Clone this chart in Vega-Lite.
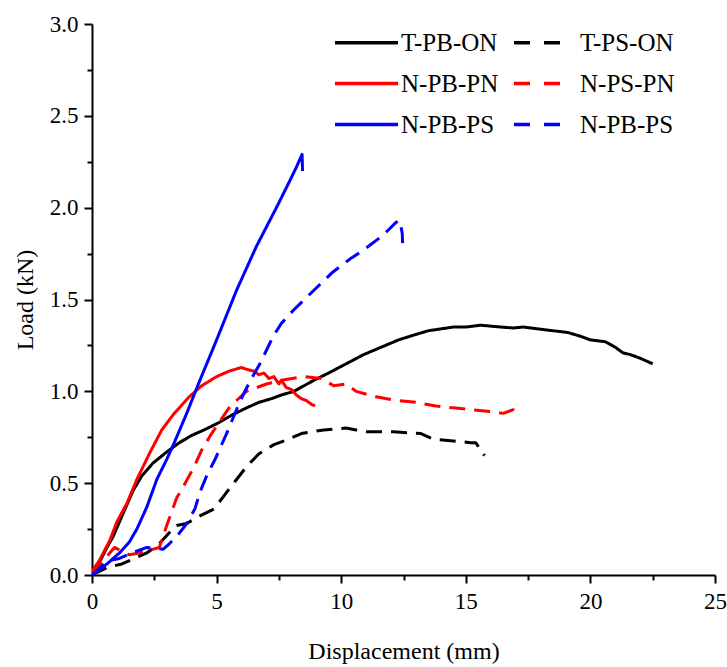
{
  "$schema": "https://vega.github.io/schema/vega-lite/v6.json",
  "width": 623,
  "height": 551,
  "autosize": "none",
  "padding": {"left": 92, "top": 24, "right": 12, "bottom": 92},
  "background": "white",
  "config": {
    "view": {"stroke": null},
    "font": "Liberation Serif"
  },
  "data": {
    "values": [
      {"s": "s1", "i": 0, "x": 0, "y": 0},
      {"s": "s1", "i": 1, "x": 0.3, "y": 0.07},
      {"s": "s1", "i": 2, "x": 0.6, "y": 0.15},
      {"s": "s1", "i": 3, "x": 0.85, "y": 0.21},
      {"s": "s1", "i": 4, "x": 1.2, "y": 0.32},
      {"s": "s1", "i": 5, "x": 1.65, "y": 0.46},
      {"s": "s1", "i": 6, "x": 2.0, "y": 0.54},
      {"s": "s1", "i": 7, "x": 2.45, "y": 0.61},
      {"s": "s1", "i": 8, "x": 3.0, "y": 0.67},
      {"s": "s1", "i": 9, "x": 3.5, "y": 0.72},
      {"s": "s1", "i": 10, "x": 4.0, "y": 0.76},
      {"s": "s1", "i": 11, "x": 4.5, "y": 0.79},
      {"s": "s1", "i": 12, "x": 5.1, "y": 0.83},
      {"s": "s1", "i": 13, "x": 5.6, "y": 0.87},
      {"s": "s1", "i": 14, "x": 6.2, "y": 0.91},
      {"s": "s1", "i": 15, "x": 6.7, "y": 0.94},
      {"s": "s1", "i": 16, "x": 7.2, "y": 0.96},
      {"s": "s1", "i": 17, "x": 7.6, "y": 0.98},
      {"s": "s1", "i": 18, "x": 8.1, "y": 1.0},
      {"s": "s1", "i": 19, "x": 8.9, "y": 1.06},
      {"s": "s1", "i": 20, "x": 9.5, "y": 1.1},
      {"s": "s1", "i": 21, "x": 10.2, "y": 1.15},
      {"s": "s1", "i": 22, "x": 10.9, "y": 1.2},
      {"s": "s1", "i": 23, "x": 11.6, "y": 1.24},
      {"s": "s1", "i": 24, "x": 12.3, "y": 1.28},
      {"s": "s1", "i": 25, "x": 13.0, "y": 1.31},
      {"s": "s1", "i": 26, "x": 13.5, "y": 1.33},
      {"s": "s1", "i": 27, "x": 14.0, "y": 1.34},
      {"s": "s1", "i": 28, "x": 14.5, "y": 1.35},
      {"s": "s1", "i": 29, "x": 15.0, "y": 1.35},
      {"s": "s1", "i": 30, "x": 15.6, "y": 1.36},
      {"s": "s1", "i": 31, "x": 16.0, "y": 1.355},
      {"s": "s1", "i": 32, "x": 16.4, "y": 1.35},
      {"s": "s1", "i": 33, "x": 16.9, "y": 1.345},
      {"s": "s1", "i": 34, "x": 17.3, "y": 1.35},
      {"s": "s1", "i": 35, "x": 17.9, "y": 1.34},
      {"s": "s1", "i": 36, "x": 18.5, "y": 1.33},
      {"s": "s1", "i": 37, "x": 19.1, "y": 1.32},
      {"s": "s1", "i": 38, "x": 19.6, "y": 1.3},
      {"s": "s1", "i": 39, "x": 20.0, "y": 1.28},
      {"s": "s1", "i": 40, "x": 20.6, "y": 1.27},
      {"s": "s1", "i": 41, "x": 21.0, "y": 1.24},
      {"s": "s1", "i": 42, "x": 21.3, "y": 1.21},
      {"s": "s1", "i": 43, "x": 21.6, "y": 1.2},
      {"s": "s1", "i": 44, "x": 22.0, "y": 1.18},
      {"s": "s1", "i": 45, "x": 22.5, "y": 1.15},

      {"s": "s2", "i": 0, "x": 0, "y": 0},
      {"s": "s2", "i": 1, "x": 0.6, "y": 0.04},
      {"s": "s2", "i": 2, "x": 1.2, "y": 0.06},
      {"s": "s2", "i": 3, "x": 1.7, "y": 0.09},
      {"s": "s2", "i": 4, "x": 2.2, "y": 0.12},
      {"s": "s2", "i": 5, "x": 2.7, "y": 0.17},
      {"s": "s2", "i": 6, "x": 3.1, "y": 0.23},
      {"s": "s2", "i": 7, "x": 3.4, "y": 0.27},
      {"s": "s2", "i": 8, "x": 3.8, "y": 0.28},
      {"s": "s2", "i": 9, "x": 4.3, "y": 0.32},
      {"s": "s2", "i": 10, "x": 4.9, "y": 0.36},
      {"s": "s2", "i": 11, "x": 5.4, "y": 0.45},
      {"s": "s2", "i": 12, "x": 5.8, "y": 0.52},
      {"s": "s2", "i": 13, "x": 6.2, "y": 0.59},
      {"s": "s2", "i": 14, "x": 6.7, "y": 0.66},
      {"s": "s2", "i": 15, "x": 7.3, "y": 0.71},
      {"s": "s2", "i": 16, "x": 7.9, "y": 0.74},
      {"s": "s2", "i": 17, "x": 8.4, "y": 0.77},
      {"s": "s2", "i": 18, "x": 9.3, "y": 0.79},
      {"s": "s2", "i": 19, "x": 10.2, "y": 0.8},
      {"s": "s2", "i": 20, "x": 10.6, "y": 0.79},
      {"s": "s2", "i": 21, "x": 11.0, "y": 0.78},
      {"s": "s2", "i": 22, "x": 12.1, "y": 0.78},
      {"s": "s2", "i": 23, "x": 13.2, "y": 0.77},
      {"s": "s2", "i": 24, "x": 13.7, "y": 0.74},
      {"s": "s2", "i": 25, "x": 14.5, "y": 0.73},
      {"s": "s2", "i": 26, "x": 15.2, "y": 0.72},
      {"s": "s2", "i": 27, "x": 15.4, "y": 0.72},
      {"s": "s2", "i": 28, "x": 15.75, "y": 0.65},

      {"s": "s3", "i": 0, "x": 0, "y": 0.02},
      {"s": "s3", "i": 1, "x": 0.3, "y": 0.08},
      {"s": "s3", "i": 2, "x": 0.72, "y": 0.19},
      {"s": "s3", "i": 3, "x": 1.0, "y": 0.29},
      {"s": "s3", "i": 4, "x": 1.4, "y": 0.39},
      {"s": "s3", "i": 5, "x": 1.8, "y": 0.52},
      {"s": "s3", "i": 6, "x": 2.3, "y": 0.66},
      {"s": "s3", "i": 7, "x": 2.8, "y": 0.79},
      {"s": "s3", "i": 8, "x": 3.3, "y": 0.88},
      {"s": "s3", "i": 9, "x": 3.9, "y": 0.97},
      {"s": "s3", "i": 10, "x": 4.4, "y": 1.03},
      {"s": "s3", "i": 11, "x": 5.0, "y": 1.08},
      {"s": "s3", "i": 12, "x": 5.5, "y": 1.11},
      {"s": "s3", "i": 13, "x": 6.0, "y": 1.13},
      {"s": "s3", "i": 14, "x": 6.2, "y": 1.12},
      {"s": "s3", "i": 15, "x": 6.5, "y": 1.11},
      {"s": "s3", "i": 16, "x": 6.7, "y": 1.09},
      {"s": "s3", "i": 17, "x": 6.9, "y": 1.1},
      {"s": "s3", "i": 18, "x": 7.1, "y": 1.07},
      {"s": "s3", "i": 19, "x": 7.3, "y": 1.08},
      {"s": "s3", "i": 20, "x": 7.5, "y": 1.04},
      {"s": "s3", "i": 21, "x": 7.6, "y": 1.06},
      {"s": "s3", "i": 22, "x": 7.8, "y": 1.02},
      {"s": "s3", "i": 23, "x": 8.0, "y": 1.01},
      {"s": "s3", "i": 24, "x": 8.2, "y": 0.98},
      {"s": "s3", "i": 25, "x": 8.4, "y": 0.96},
      {"s": "s3", "i": 26, "x": 8.6, "y": 0.95},
      {"s": "s3", "i": 27, "x": 8.8, "y": 0.93},
      {"s": "s3", "i": 28, "x": 8.95, "y": 0.92},

      {"s": "s4", "i": 0, "x": 0, "y": 0},
      {"s": "s4", "i": 1, "x": 0.4, "y": 0.07},
      {"s": "s4", "i": 2, "x": 0.9, "y": 0.15},
      {"s": "s4", "i": 3, "x": 1.5, "y": 0.11},
      {"s": "s4", "i": 4, "x": 1.9, "y": 0.12},
      {"s": "s4", "i": 5, "x": 2.7, "y": 0.15},
      {"s": "s4", "i": 6, "x": 3.0, "y": 0.27},
      {"s": "s4", "i": 7, "x": 3.4, "y": 0.42},
      {"s": "s4", "i": 8, "x": 3.7, "y": 0.49},
      {"s": "s4", "i": 9, "x": 4.1, "y": 0.59},
      {"s": "s4", "i": 10, "x": 4.4, "y": 0.68},
      {"s": "s4", "i": 11, "x": 4.8, "y": 0.77},
      {"s": "s4", "i": 12, "x": 5.1, "y": 0.83},
      {"s": "s4", "i": 13, "x": 5.5, "y": 0.91},
      {"s": "s4", "i": 14, "x": 5.8, "y": 0.95},
      {"s": "s4", "i": 15, "x": 6.2, "y": 1.0},
      {"s": "s4", "i": 16, "x": 6.6, "y": 1.02},
      {"s": "s4", "i": 17, "x": 7.0, "y": 1.04},
      {"s": "s4", "i": 18, "x": 7.6, "y": 1.06},
      {"s": "s4", "i": 19, "x": 8.5, "y": 1.08},
      {"s": "s4", "i": 20, "x": 9.2, "y": 1.07},
      {"s": "s4", "i": 21, "x": 9.7, "y": 1.03},
      {"s": "s4", "i": 22, "x": 10.2, "y": 1.04},
      {"s": "s4", "i": 23, "x": 10.6, "y": 1.0},
      {"s": "s4", "i": 24, "x": 11.4, "y": 0.97},
      {"s": "s4", "i": 25, "x": 12.2, "y": 0.95},
      {"s": "s4", "i": 26, "x": 13.0, "y": 0.94},
      {"s": "s4", "i": 27, "x": 13.8, "y": 0.92},
      {"s": "s4", "i": 28, "x": 14.5, "y": 0.91},
      {"s": "s4", "i": 29, "x": 15.2, "y": 0.9},
      {"s": "s4", "i": 30, "x": 16.0, "y": 0.89},
      {"s": "s4", "i": 31, "x": 16.5, "y": 0.88},
      {"s": "s4", "i": 32, "x": 16.9, "y": 0.9},
      {"s": "s4", "i": 33, "x": 17.2, "y": 0.87},

      {"s": "s5", "i": 0, "x": 0, "y": 0},
      {"s": "s5", "i": 1, "x": 0.3, "y": 0.03},
      {"s": "s5", "i": 2, "x": 0.6, "y": 0.06},
      {"s": "s5", "i": 3, "x": 1.1, "y": 0.12},
      {"s": "s5", "i": 4, "x": 1.5, "y": 0.18},
      {"s": "s5", "i": 5, "x": 1.8, "y": 0.25},
      {"s": "s5", "i": 6, "x": 2.2, "y": 0.37},
      {"s": "s5", "i": 7, "x": 2.6, "y": 0.52},
      {"s": "s5", "i": 8, "x": 3.0, "y": 0.63},
      {"s": "s5", "i": 9, "x": 3.3, "y": 0.72},
      {"s": "s5", "i": 10, "x": 3.8, "y": 0.88},
      {"s": "s5", "i": 11, "x": 4.3, "y": 1.05},
      {"s": "s5", "i": 12, "x": 5.0, "y": 1.28},
      {"s": "s5", "i": 13, "x": 5.8, "y": 1.55},
      {"s": "s5", "i": 14, "x": 6.6, "y": 1.79},
      {"s": "s5", "i": 15, "x": 7.4, "y": 2.0},
      {"s": "s5", "i": 16, "x": 7.95, "y": 2.15},
      {"s": "s5", "i": 17, "x": 8.2, "y": 2.22},
      {"s": "s5", "i": 18, "x": 8.43, "y": 2.29},
      {"s": "s5", "i": 19, "x": 8.45, "y": 2.2},

      {"s": "s6", "i": 0, "x": 0, "y": 0},
      {"s": "s6", "i": 1, "x": 0.4, "y": 0.05},
      {"s": "s6", "i": 2, "x": 0.72, "y": 0.08},
      {"s": "s6", "i": 3, "x": 1.1, "y": 0.09},
      {"s": "s6", "i": 4, "x": 1.6, "y": 0.12},
      {"s": "s6", "i": 5, "x": 2.2, "y": 0.15},
      {"s": "s6", "i": 6, "x": 2.85, "y": 0.14},
      {"s": "s6", "i": 7, "x": 3.1, "y": 0.17},
      {"s": "s6", "i": 8, "x": 3.4, "y": 0.21},
      {"s": "s6", "i": 9, "x": 3.8, "y": 0.28},
      {"s": "s6", "i": 10, "x": 4.13, "y": 0.36},
      {"s": "s6", "i": 11, "x": 4.33, "y": 0.45},
      {"s": "s6", "i": 12, "x": 4.6, "y": 0.54},
      {"s": "s6", "i": 13, "x": 4.94, "y": 0.63},
      {"s": "s6", "i": 14, "x": 5.4, "y": 0.77},
      {"s": "s6", "i": 15, "x": 5.86, "y": 0.92},
      {"s": "s6", "i": 16, "x": 6.06, "y": 0.98},
      {"s": "s6", "i": 17, "x": 6.4, "y": 1.07},
      {"s": "s6", "i": 18, "x": 6.74, "y": 1.15},
      {"s": "s6", "i": 19, "x": 7.27, "y": 1.3},
      {"s": "s6", "i": 20, "x": 7.6, "y": 1.37},
      {"s": "s6", "i": 21, "x": 8.07, "y": 1.44},
      {"s": "s6", "i": 22, "x": 8.75, "y": 1.53},
      {"s": "s6", "i": 23, "x": 9.67, "y": 1.65},
      {"s": "s6", "i": 24, "x": 10.35, "y": 1.72},
      {"s": "s6", "i": 25, "x": 10.9, "y": 1.77},
      {"s": "s6", "i": 26, "x": 11.68, "y": 1.85},
      {"s": "s6", "i": 27, "x": 12.2, "y": 1.92},
      {"s": "s6", "i": 28, "x": 12.35, "y": 1.93},
      {"s": "s6", "i": 29, "x": 12.45, "y": 1.86},
      {"s": "s6", "i": 30, "x": 12.47, "y": 1.78}
    ]
  },
  "transform": [
    {"calculate": "indexof(['s2','s4','s6'], datum.s) >= 0 ? 'dashed' : 'solid'", "as": "style"}
  ],
  "mark": {"type": "line", "strokeWidth": 3, "strokeJoin": "round", "clip": true},
  "encoding": {
    "x": {
      "field": "x",
      "type": "quantitative",
      "scale": {"domain": [0, 25], "nice": false, "zero": false},
      "axis": {
        "title": "Displacement (mm)",
        "values": [0, 2.5, 5, 7.5, 10, 12.5, 15, 17.5, 20, 22.5, 25],
        "labelExpr": "datum.value % 5 === 0 ? format(datum.value, 'd') : ''",
        "grid": false,
        "domainColor": "black",
        "domainWidth": 2,
        "tickColor": "black",
        "tickWidth": 2,
        "tickSize": {"condition": {"test": "datum.value % 5 === 0", "value": 8}, "value": 5},
        "labelPadding": 7,
        "labelFont": "Liberation Serif",
        "labelFontSize": 23,
        "labelColor": "black",
        "labelFlush": false,
        "labelOverlap": false,
        "titleFont": "Liberation Serif",
        "titleFontSize": 24,
        "titleFontWeight": "normal",
        "titleColor": "black",
        "titlePadding": 26
      }
    },
    "y": {
      "field": "y",
      "type": "quantitative",
      "scale": {"domain": [0, 3], "nice": false},
      "axis": {
        "title": "Load (kN)",
        "values": [0, 0.25, 0.5, 0.75, 1, 1.25, 1.5, 1.75, 2, 2.25, 2.5, 2.75, 3],
        "labelExpr": "(datum.value * 2) % 1 === 0 ? format(datum.value, '.1f') : ''",
        "grid": false,
        "domainColor": "black",
        "domainWidth": 2,
        "tickColor": "black",
        "tickWidth": 2,
        "tickSize": {"condition": {"test": "(datum.value * 2) % 1 === 0", "value": 8}, "value": 5},
        "labelPadding": 6,
        "labelFont": "Liberation Serif",
        "labelFontSize": 23,
        "labelColor": "black",
        "labelFlush": false,
        "labelOverlap": false,
        "titleFont": "Liberation Serif",
        "titleFontSize": 24,
        "titleFontWeight": "normal",
        "titleColor": "black",
        "titlePadding": 12
      }
    },
    "color": {
      "field": "s",
      "type": "nominal",
      "scale": {
        "domain": ["s1", "s3", "s5", "s2", "s4", "s6"],
        "range": ["#000000", "#FF0000", "#0000FF", "#000000", "#FF0000", "#0000FF"]
      },
      "legend": {
        "orient": "none",
        "legendX": 241,
        "legendY": 6,
        "columns": 2,
        "columnPadding": 8,
        "rowPadding": 15,
        "title": null,
        "symbolType": "M-1,0H5",
        "symbolSize": 441,
        "symbolStrokeWidth": 3.5,
        "labelOffset": 43,
        "labelFont": "Liberation Serif",
        "labelFontSize": 25,
        "labelColor": "black",
        "labelExpr": "{'s1': 'T-PB-ON', 's2': 'T-PS-ON', 's3': 'N-PB-PN', 's4': 'N-PS-PN', 's5': 'N-PB-PS', 's6': 'N-PB-PS'}[datum.value]",
        "encode": {
          "symbols": {
            "update": {
              "strokeDash": [
                {"test": "indexof(['s2','s4','s6'], datum.value) >= 0", "value": [16, 14, 16, 40]},
                {"value": [1, 0]}
              ]
            }
          }
        }
      }
    },
    "strokeDash": {
      "field": "style",
      "type": "nominal",
      "scale": {
        "domain": ["solid", "dashed"],
        "range": [[1, 0], [16, 9]]
      },
      "legend": null
    },
    "order": {"field": "i", "type": "quantitative"}
  }
}
